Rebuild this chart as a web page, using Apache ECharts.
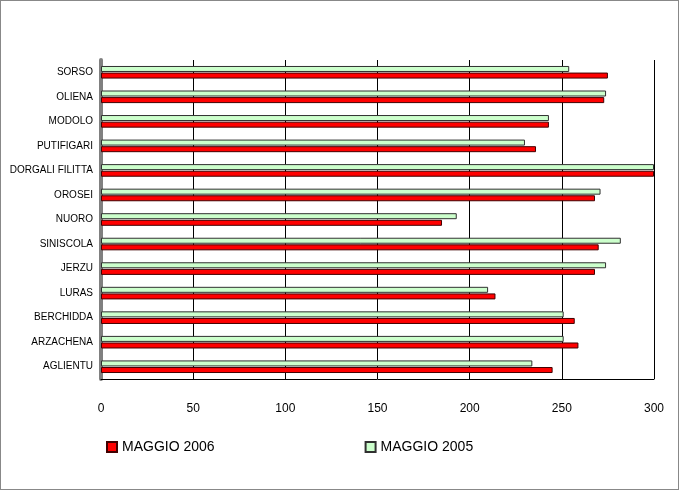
<!DOCTYPE html>
<html><head><meta charset="utf-8">
<script src="https://cdn.jsdelivr.net/npm/echarts@6/dist/echarts.min.js"></script>
<style>body{margin:0;background:#fff}#container{width:679px;height:490px;border:1px solid #888;box-sizing:border-box}</style>
</head><body><div id="container"></div>
<script>
var categories = ['AGLIENTU','ARZACHENA','BERCHIDDA','LURAS','JERZU','SINISCOLA','NUORO','OROSEI','DORGALI FILITTA','PUTIFIGARI','MODOLO','OLIENA','SORSO'];
var maggio2006 = [245, 259, 257, 214, 268, 270, 185, 268, 300, 236, 243, 273, 275];
var maggio2005 = [234, 251, 251, 210, 274, 282, 193, 271, 300, 230, 243, 274, 254];
var xTicks = [0, 50, 100, 150, 200, 250, 300];

var myChart = echarts.init(document.getElementById('container'));
var font = 'Liberation Sans, Arial, sans-serif';
option = {
    animation: false,
    textStyle: { fontFamily: font },
    legend: {
        left: 100, bottom: 30, itemGap: 150, itemWidth: 10, itemHeight: 10, icon: 'rect',
        textStyle: { fontSize: 14, color: '#000' },
        data: ['MAGGIO 2006', 'MAGGIO 2005']
    },
    grid: { left: 100, right: 24, top: 59, bottom: 110 },
    xAxis: {
        type: 'value', min: 0, max: 300, interval: 50,
        axisLine: { show: true, lineStyle: { color: '#000' } },
        axisTick: { show: false },
        axisLabel: { color: '#000', fontSize: 12, margin: 24, formatter: function (v) { return xTicks.indexOf(v) >= 0 ? v : ''; } },
        splitLine: { show: true, lineStyle: { color: '#000', width: 1 } }
    },
    yAxis: {
        type: 'category', data: categories,
        axisLine: { show: true, lineStyle: { color: '#808080', width: 4 } },
        axisTick: { show: false },
        axisLabel: { color: '#000', fontSize: 10 }
    },
    series: [
        {
            name: 'MAGGIO 2005', type: 'bar', data: maggio2005, barWidth: 6, barGap: '10%',
            itemStyle: { color: '#ccffcc', borderColor: '#303030', borderWidth: 1 }
        },
        {
            name: 'MAGGIO 2006', type: 'bar', data: maggio2006, barWidth: 6,
            itemStyle: { color: '#ff0000', borderColor: '#400000', borderWidth: 1 }
        }
    ]
};
myChart.setOption(option, true);
</script></body></html>
